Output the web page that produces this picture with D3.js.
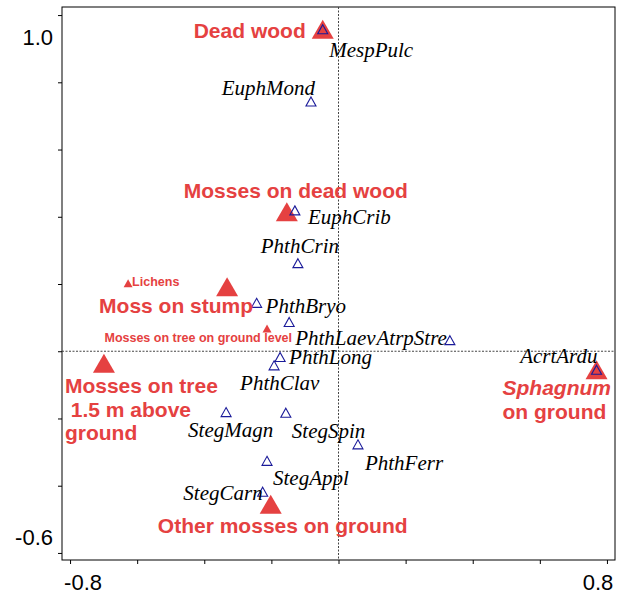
<!DOCTYPE html>
<html>
<head>
<meta charset="utf-8">
<script src="https://cdn.jsdelivr.net/npm/d3@7"></script>
<style>
  body { margin: 0; background: #fff; }
  .species { font-family: 'Liberation Serif', 'Times New Roman', serif; font-style: italic; font-size: 21px; fill: #000; }
  .env { font-family: 'Liberation Sans', Arial, sans-serif; font-weight: bold; fill: #e54141; }
  .ticklab { font-family: 'Liberation Sans', Arial, sans-serif; font-size: 22px; fill: #000; }
</style>
</head>
<body>
<svg id="biplot" width="620" height="595"></svg>
<script>
// species scores
const speciesNames = ['MespPulc','EuphMond','EuphCrib','PhthCrin','PhthBryo','PhthLaev','AtrpStre','PhthLong',
                      'PhthClav','StegMagn','StegSpin','PhthFerr','StegAppl','StegCarn','AcrtArdu'];
const speciesX = [-0.047, -0.082, -0.130, -0.121, -0.244, -0.147, 0.332, -0.174,
                  -0.192, -0.335, -0.157, 0.058, -0.213, -0.226, 0.769];
const speciesY = [0.958, 0.743, 0.419, 0.262, 0.144, 0.087, 0.033, -0.017,
                  -0.042, -0.181, -0.183, -0.277, -0.326, -0.418, -0.055];

// environmental (substrate) centroids
const envNames = ['Dead wood','Mosses on dead wood','Moss on stump','Lichens','Mosses on tree on ground level',
                  'Mosses on tree 1.5 m above ground','Sphagnum on ground','Other mosses on ground'];
const envX = [-0.047, -0.154, -0.332, -0.627, -0.213, -0.699, 0.769, -0.202];
const envY = [0.958, 0.415, 0.192, 0.202, 0.068, -0.036, -0.055, -0.455];

const xTicks = [-0.8, -0.6, -0.4, -0.2, 0, 0.2, 0.4, 0.6, 0.8];
const yTicks = [-0.6, -0.4, -0.2, 0, 0.2, 0.4, 0.6, 0.8, 1.0];
const xTickLabels = ['-0.8', '0.8'];
const yTickLabels = ['-0.6', '1.0'];

var svg = d3.select('#biplot');
const width = +svg.attr('width');
const height = +svg.attr('height');
const margin = {top: 7, right: 5, left: 62, bottom: 35};
const innerWidth = width - margin.left - margin.right;
const innerHeight = height - margin.top - margin.bottom;
const red = '#e54141';
const blue = '#1a1a99';

var g = svg.append('g')
    .attr('transform', `translate(${margin.left}, ${margin.top})`);

var x = d3.scaleLinear().domain([-0.824, 0.824]).range([0, innerWidth]);
var y = d3.scaleLinear().domain([-0.621, 1.024]).range([innerHeight, 0]);

// frame
g.append('rect')
    .attr('width', innerWidth).attr('height', innerHeight)
    .attr('fill', 'none').attr('stroke', '#000').attr('stroke-width', 1);

// axes (ticks only, labels placed separately like the original)
g.append('g')
    .call(d3.axisLeft(y).tickValues(yTicks).tickFormat('').tickSize(4).tickSizeOuter(0))
    .call(a => a.select('.domain').remove());
g.append('g')
    .attr('transform', `translate(0, ${innerHeight})`)
    .call(d3.axisBottom(x).tickValues(xTicks).tickFormat('').tickSize(4).tickSizeOuter(0))
    .call(a => a.select('.domain').remove());

// tick labels, nudged inside the ends
g.append('text').attr('class', 'ticklab').attr('text-anchor', 'end')
    .attr('x', -9).attr('y', y(1.0) + 30).text(yTickLabels[1]);
g.append('text').attr('class', 'ticklab').attr('text-anchor', 'end')
    .attr('x', -9).attr('y', y(-0.6) - 8).text(yTickLabels[0]);
g.append('text').attr('class', 'ticklab').attr('text-anchor', 'middle')
    .attr('x', x(-0.8) + 13).attr('y', innerHeight + 30).text(xTickLabels[0]);
g.append('text').attr('class', 'ticklab').attr('text-anchor', 'middle')
    .attr('x', x(0.8) - 9).attr('y', innerHeight + 30).text(xTickLabels[1]);

// zero lines
g.append('line')
    .attr('x1', x(0)).attr('x2', x(0)).attr('y1', 0).attr('y2', innerHeight)
    .attr('stroke', '#444').attr('stroke-width', 1).attr('stroke-dasharray', '2,1.5');
g.append('line')
    .attr('x1', 0).attr('x2', innerWidth).attr('y1', y(0)).attr('y2', y(0))
    .attr('stroke', '#444').attr('stroke-width', 1).attr('stroke-dasharray', '2,1.5');

function tri(w, h) {
    return `M0,${-h / 2}L${w / 2},${h / 2}L${-w / 2},${h / 2}Z`;
}

// environmental symbols
const smallEnv = ['Lichens', 'Mosses on tree on ground level'];
var env = envNames.map((n, i) => ({name: n, x: envX[i], y: envY[i]}));
g.append('g').selectAll('path')
    .data(env)
    .enter().append('path')
        .attr('transform', d => `translate(${x(d.x)}, ${y(d.y)})`)
        .attr('d', d => smallEnv.includes(d.name) ? tri(9, 8) : tri(22, 19))
        .attr('fill', red);

// species symbols
var species = speciesNames.map((n, i) => ({name: n, x: speciesX[i], y: speciesY[i]}));
g.append('g').selectAll('path')
    .data(species)
    .enter().append('path')
        .attr('transform', d => `translate(${x(d.x)}, ${y(d.y)})`)
        .attr('d', tri(10, 9))
        .attr('fill', 'none')
        .attr('stroke', blue)
        .attr('stroke-width', 1.1);

// label placement
const speciesLab = {
    MespPulc: [6.5, 28, 'start'], EuphMond: [4, -6, 'end'], EuphCrib: [13, 14, 'start'],
    PhthCrin: [2, -10, 'middle'], PhthBryo: [9, 10, 'start'], PhthLaev: [6, 23, 'start'],
    AtrpStre: [-3, 5, 'end'], PhthLong: [9, 7, 'start'], PhthClav: [-34, 25, 'start'],
    StegMagn: [-38, 25, 'start'], StegSpin: [6, 25, 'start'], PhthFerr: [7, 26, 'start'],
    StegAppl: [6, 24, 'start'], StegCarn: [0, 8, 'end'], AcrtArdu: [1, -7, 'end']
};
g.append('g').selectAll('text')
    .data(species)
    .enter().append('text')
        .attr('class', 'species')
        .attr('x', d => x(d.x) + speciesLab[d.name][0])
        .attr('y', d => y(d.y) + speciesLab[d.name][1])
        .attr('text-anchor', d => speciesLab[d.name][2])
        .text(d => d.name);

const envLab = {
    'Dead wood': {dx: -17, dy: 9, anchor: 'end', size: 21, lines: ['Dead wood']},
    'Mosses on dead wood': {dx: 9, dy: -13.5, anchor: 'middle', size: 21, lines: ['Mosses on dead wood']},
    'Moss on stump': {dx: -128, dy: 26.5, anchor: 'start', size: 21, lines: ['Moss on stump']},
    'Lichens': {dx: 4, dy: 3, anchor: 'start', size: 12.5, lines: ['Lichens']},
    'Mosses on tree on ground level': {dx: 25, dy: 14, anchor: 'end', size: 12.5, lines: ['Mosses on tree on ground level']},
    'Mosses on tree 1.5 m above ground': {dx: -39, dy: 30, anchor: 'start', size: 21,
        lines: ['Mosses on tree', '\u00a01.5 m above', 'ground']},
    'Sphagnum on ground': {dx: -94, dy: 25.5, anchor: 'start', size: 21, lines: ['Sphagnum', 'on ground'], italicFirst: true},
    'Other mosses on ground': {dx: 12, dy: 29, anchor: 'middle', size: 21, lines: ['Other mosses on ground']}
};
var envText = g.append('g').selectAll('text')
    .data(env)
    .enter().append('text')
        .attr('class', 'env')
        .attr('text-anchor', d => envLab[d.name].anchor)
        .style('font-size', d => envLab[d.name].size + 'px');
envText.selectAll('tspan')
    .data(d => envLab[d.name].lines.map((t, i) => ({t: t, i: i, d: d})))
    .enter().append('tspan')
        .attr('x', o => x(o.d.x) + envLab[o.d.name].dx)
        .attr('y', o => y(o.d.y) + envLab[o.d.name].dy + o.i * 23.5)
        .style('font-style', o => (envLab[o.d.name].italicFirst && o.i === 0) ? 'italic' : 'normal')
        .text(o => o.t);
</script>
</body>
</html>
